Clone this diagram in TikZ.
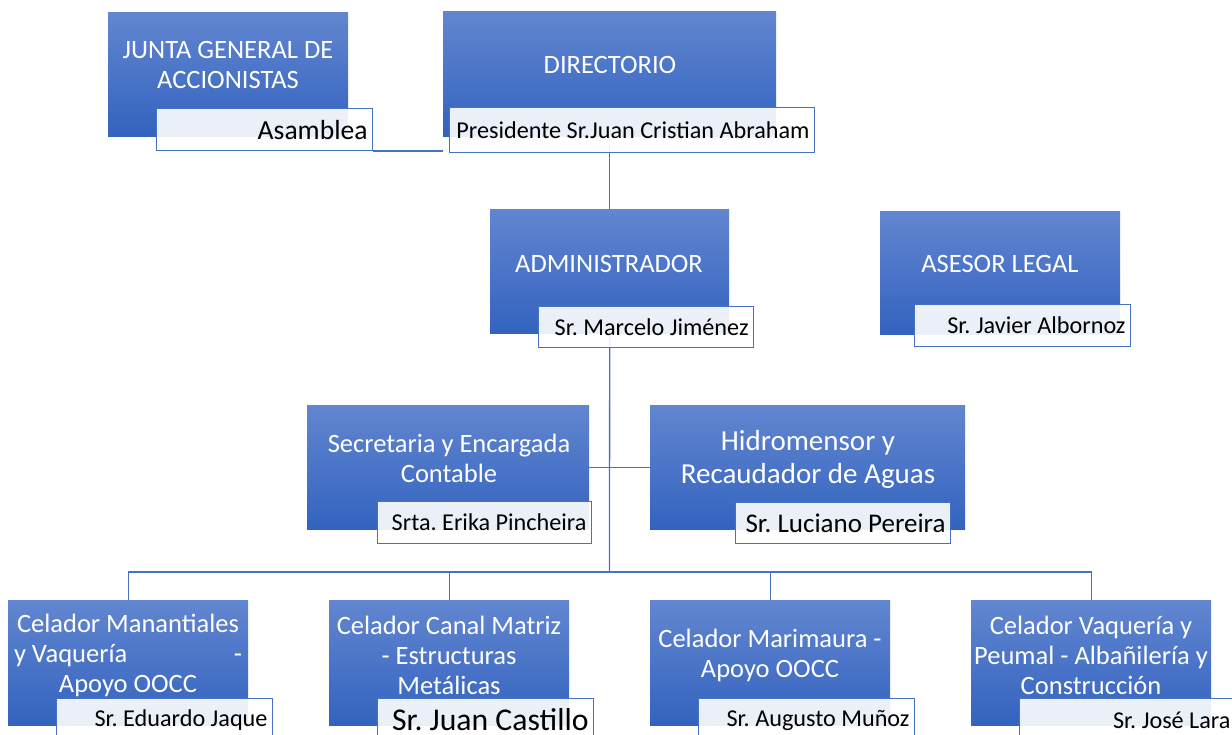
\documentclass[tikz,border=0pt]{standalone}
\usepackage{fontspec}
\setmainfont{Carlito}
\usetikzlibrary{backgrounds}
\definecolor{btop}{RGB}{98,134,208}
\definecolor{bbot}{RGB}{51,99,191}
\definecolor{lnc}{RGB}{68,114,196}
\newcommand{\rt}[2]{\makebox[#1][r]{#2}}
\tikzset{
 orgbox/.style={anchor=north west, inner sep=0pt, top color=btop, bottom color=bbot, draw=none},
 ttl/.style={text=white, align=center, inner sep=0pt, font=\fontsize{26.5}{30}\selectfont},
 subbox/.style={anchor=north west, draw=lnc, line width=1.1pt, fill=white, fill opacity=0.9, draw opacity=1, text opacity=1, inner xsep=5pt, inner ysep=0pt, minimum height=43pt, font=\fontsize{24.2}{28}\selectfont},
 conn/.style={draw=lnc, line width=1.3pt}
}
\begin{document}
\frenchspacing
\begin{tikzpicture}[x=1pt,y=-1pt]
\useasboundingbox (0,0) rectangle (1232,734);
% blue boxes
\node[orgbox, minimum width=240pt, minimum height=124pt] (junta) at (108,12) {};
\node[orgbox, minimum width=333pt, minimum height=125pt] (dir) at (443,11) {};
\node[orgbox, minimum width=239pt, minimum height=124pt] (adm) at (490,209) {};
\node[orgbox, minimum width=240pt, minimum height=123pt] (ases) at (880,211) {};
\node[orgbox, minimum width=282pt, minimum height=124pt] (secr) at (307,405) {};
\node[orgbox, minimum width=315pt, minimum height=124pt] (hidr) at (650,405) {};
\node[orgbox, minimum width=240pt, minimum height=125pt] (c1) at (8,600) {};
\node[orgbox, minimum width=240pt, minimum height=125pt] (c2) at (329,600) {};
\node[orgbox, minimum width=240pt, minimum height=125pt] (c3) at (650,600) {};
\node[orgbox, minimum width=240pt, minimum height=125pt] (c4) at (971,600) {};
% titles
\node[ttl] (junta-t) at (228,65) {JUNTA GENERAL DE\\ACCIONISTAS};
\node[ttl] (dir-t) at (610,65) {DIRECTORIO};
\node[ttl] (adm-t) at (609,264) {ADMINISTRADOR};
\node[ttl] (ases-t) at (1000,264) {ASESOR LEGAL};
\node[ttl] (secr-t) at (449,458) {Secretaria y Encargada\\Contable};
\node[ttl, font=\fontsize{29}{33}\selectfont] (hidr-t) at (808,459) {Hidromensor y\\Recaudador de Aguas};
\node[ttl] (c1-t) at (128,655) {Celador Manantiales\\\makebox[228pt]{y Vaquería\hfill-}\\Apoyo OOCC};
\node[ttl] (c2-t) at (449,655) {Celador Canal Matriz\\- Estructuras\\Metálicas};
\node[ttl] (c3-t) at (770,655) {Celador Marimaura -\\Apoyo OOCC};
\node[ttl] (c4-t) at (1091,655) {Celador Vaquería y\\Peumal - Albañilería y\\Construcción};
% sub boxes
\node[subbox, minimum height=42pt, font=\fontsize{27.6}{30}\selectfont] (junta-s) at (156,108) {\rt{206pt}{Asamblea}};
\node[subbox, minimum height=45pt] (dir-s) at (449,107) {\rt{355pt}{Presidente Sr.Juan Cristian Abraham}};
\node[subbox, minimum height=41pt] (adm-s) at (538,306) {\rt{205pt}{Sr. Marcelo Jiménez}};
\node[subbox, minimum height=42pt] (ases-s) at (914,304) {\rt{206pt}{Sr. Javier Albornoz}};
\node[subbox, minimum height=42pt] (secr-s) at (377,501) {\rt{204pt}{Srta. Erika Pincheira}};
\node[subbox, minimum height=41pt, font=\fontsize{27}{30}\selectfont] (hidr-s) at (735,502) {\rt{205pt}{Sr. Luciano Pereira}};
\node[subbox] (c1-s) at (56,698) {\rt{206pt}{Sr. Eduardo Jaque}};
\node[subbox, font=\fontsize{31.7}{34}\selectfont] (c2-s) at (377,698) {\rt{206pt}{Sr. Juan Castillo}};
\node[subbox] (c3-s) at (698,698) {\rt{206pt}{Sr. Augusto Muñoz}};
\node[subbox] (c4-s) at (1019,698) {\rt{206pt}{Sr. José Lara}};
% connectors
\begin{pgfonlayer}{background}
\coordinate (bus) at (609.5,572);
\draw[conn] (junta-s.south east) -- (dir.west |- junta-s.south east);
\draw[conn] (dir.south) -- (adm.north);
\draw[conn] (adm.south) -- (bus);
\draw[conn] (secr.east) -- (hidr.west);
\draw[conn] (c1.north) |- (bus) -| (c4.north);
\draw[conn] (c2.north) -- (c2.north |- bus);
\draw[conn] (c3.north) -- (c3.north |- bus);
\end{pgfonlayer}
\end{tikzpicture}
\end{document}
